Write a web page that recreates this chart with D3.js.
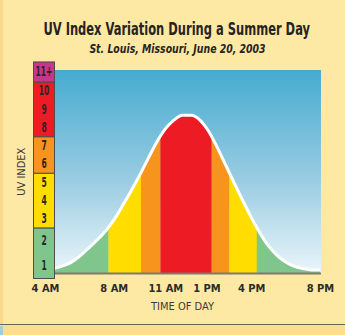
<!DOCTYPE html>
<html>
<head>
<meta charset="utf-8">
<script src="https://cdn.jsdelivr.net/npm/d3@7"></script>
<style>
  html, body { margin: 0; padding: 0; background: #fee9a4; }
  svg { display: block; }
</style>
</head>
<body>
<svg id="chart" width="345" height="335"></svg>
<script>
// Hourly UV index readings (hour of day, 24h clock), half-hour steps
const hours = [4, 4.5, 5, 5.5, 6, 6.5, 7, 7.5, 8, 8.5, 9, 9.5, 10, 10.5, 11, 11.5,
               12, 12.5, 13, 13.5, 14, 14.5, 15, 15.5, 16, 16.5, 17, 17.5, 18, 18.5, 19, 19.5, 20];
const uvValues = [0.15, 0.24, 0.38, 0.57, 0.9, 1.33, 1.78, 2.28, 2.9, 3.67, 4.48, 5.35, 6.27, 7.17, 7.9, 8.38,
                  8.65, 8.65, 8.4, 7.8, 6.93, 5.94, 4.95, 3.98, 3.05, 2.2, 1.49, 0.97, 0.6, 0.37, 0.25, 0.17, 0.16];

// Exposure categories and the index values that bound them
const categoryNames = ["Low", "Moderate", "High", "Very High", "Extreme"];
const categoryBounds = [0, 2.5, 5.5, 7.5, 10.5, 11.6];
const categoryLabels = [["1", "2"], ["3", "4", "5"], ["6", "7"], ["8", "9", "10"], ["11+"]];

// Time axis
const tickHours = [4, 8, 11, 13, 16, 20];
const tickLabels = ["4 AM", "8 AM", "11 AM", "1 PM", "4 PM", "8 PM"];

const categoryColors = ["#80c58c", "#ffdd00", "#f7941d", "#ed1c24", "#c7358c"];
const condensed = "'DejaVu Sans Condensed', sans-serif";

const svg = d3.select("#chart");
const W = 345, H = 335;

// page frame: darker edge strip on the left and a footer band
svg.append("rect").attr("x", 0).attr("y", 0).attr("width", W).attr("height", H).attr("fill", "#fee9a4");
svg.append("rect").attr("x", 0).attr("y", 0).attr("width", 3).attr("height", 325).attr("fill", "#fcd88c");
svg.append("rect").attr("x", 0).attr("y", 325).attr("width", W).attr("height", 10).attr("fill", "#fddd8e");
svg.append("rect").attr("x", 0).attr("y", 326).attr("width", 3).attr("height", 9).attr("fill", "#a9cbd6");
svg.append("line").attr("x1", 0).attr("x2", W).attr("y1", 324.5).attr("y2", 324.5)
  .attr("stroke", "#6a6356").attr("stroke-width", 1);

// plot frame
const plotL = 55, plotR = 321, plotT = 70;
const x = d3.scaleLinear().domain([4, 20]).range([45, 320]);
const y = d3.scaleLinear().domain([0, 10.5]).range([273, 81.5]);
const plotB = y(0);

const data = hours.map((h, i) => ({ h, v: uvValues[i] }));

const defs = svg.append("defs");
const sky = defs.append("linearGradient").attr("id", "sky")
  .attr("x1", 0).attr("y1", 0).attr("x2", 0).attr("y2", 1);
sky.append("stop").attr("offset", "0%").attr("stop-color", "#46abd1");
sky.append("stop").attr("offset", "55%").attr("stop-color", "#9bcde2");
sky.append("stop").attr("offset", "100%").attr("stop-color", "#eaf5fa");

defs.append("clipPath").attr("id", "plotClip")
  .append("rect").attr("x", plotL).attr("y", plotT).attr("width", plotR - plotL).attr("height", plotB - plotT);

const line = d3.line().x(d => x(d.h)).y(d => y(d.v)).curve(d3.curveMonotoneX);
const area = d3.area().x(d => x(d.h)).y0(y(0)).y1(d => y(d.v)).curve(d3.curveMonotoneX);

defs.append("clipPath").attr("id", "areaClip")
  .append("path").datum(data).attr("d", area);

svg.append("rect").attr("x", plotL).attr("y", plotT).attr("width", plotR - plotL).attr("height", plotB - plotT)
  .attr("fill", "url(#sky)");

const plot = svg.append("g").attr("clip-path", "url(#plotClip)");
const bandLayer = plot.append("g").attr("clip-path", "url(#areaClip)");

const curvePath = plot.append("path").datum(data).attr("d", line)
  .attr("fill", "none").attr("stroke", "#ffffff").attr("stroke-width", 3);

// split the area under the curve into vertical bands by exposure category
const categoryOf = v => {
  let i = 0;
  while (i < categoryNames.length - 1 && v >= categoryBounds[i + 1]) i++;
  return i;
};
const node = curvePath.node();
const total = node.getTotalLength();
const segments = [];
let current = null;
for (let s = 0; s <= total; s += 0.25) {
  const p = node.getPointAtLength(s);
  const c = categoryOf(y.invert(p.y));
  if (!current || current.c !== c) {
    if (current) current.x1 = p.x;
    current = { c, x0: p.x };
    segments.push(current);
  }
}
current.x1 = plotR;

bandLayer.selectAll("rect").data(segments).join("rect")
  .attr("x", d => d.x0).attr("width", d => d.x1 - d.x0 + 0.3)
  .attr("y", plotT).attr("height", plotB - plotT)
  .attr("fill", d => categoryColors[d.c]);

curvePath.raise();

// baseline
svg.append("line").attr("x1", plotL).attr("x2", plotR).attr("y1", plotB + 0.5).attr("y2", plotB + 0.5)
  .attr("stroke", "#7a7a72").attr("stroke-width", 2);

// UV index category column
const colL = 33, colW = 22;
const boxes = categoryNames.map((name, i) => {
  const top = y(categoryBounds[i + 1]);
  const bottom = i === 0 ? y(categoryBounds[i]) + 5 : y(categoryBounds[i]);
  return { name, i, top, bottom, labels: categoryLabels[i] };
});
const col = svg.append("g");
col.selectAll("rect").data(boxes).join("rect")
  .attr("x", colL + 0.5).attr("y", d => d.top + 0.5)
  .attr("width", colW - 1).attr("height", d => d.bottom - d.top)
  .attr("fill", d => categoryColors[d.i])
  .attr("stroke", "#4e4e4e").attr("stroke-width", 1);

// index numbers, spread evenly inside each box, in a tall narrow face
boxes.forEach(b => {
  const n = b.labels.length;
  b.labels.forEach((lab, j) => {
    const cy = b.bottom - (j + 0.5) * (b.bottom - b.top) / n;
    col.append("text")
      .attr("transform", `translate(${colL + colW / 2},${cy}) scale(0.62,1)`)
      .attr("dy", "0.36em").attr("text-anchor", "middle")
      .attr("font-family", condensed).attr("font-weight", "bold").attr("font-size", 13.5)
      .attr("fill", "#2a2626").text(lab);
  });
});

// time axis labels
const xAxis = d3.axisBottom(x).tickValues(tickHours).tickSize(0).tickPadding(0)
  .tickFormat((d, i) => tickLabels[i]);
const axisG = svg.append("g").attr("transform", "translate(0,284)").call(xAxis);
axisG.select(".domain").remove();
axisG.selectAll("text")
  .attr("font-family", condensed).attr("font-weight", "bold").attr("font-size", 11)
  .attr("fill", "#2b2b2b").attr("dy", "0.71em");

// keep neighbouring tick labels from crowding each other
const minGap = 10;
const tickNodes = axisG.selectAll(".tick").nodes();
let prevRight = -Infinity;
tickNodes.forEach(t => {
  const txt = d3.select(t).select("text");
  const bb = txt.node().getBBox();
  const tx = x(d3.select(t).datum());
  let shift = 0;
  if (tx + bb.x < prevRight + minGap) shift = prevRight + minGap - (tx + bb.x);
  txt.attr("x", shift);
  prevRight = tx + bb.x + bb.width + shift;
});

svg.append("text").attr("x", 182.5).attr("y", 310).attr("text-anchor", "middle")
  .attr("font-family", condensed).attr("font-size", 11).attr("fill", "#3a3a3a")
  .text("TIME OF DAY");

svg.append("text").attr("transform", "translate(25,171.7) rotate(-90)").attr("text-anchor", "middle")
  .attr("font-family", condensed).attr("font-size", 11).attr("fill", "#3a3a3a")
  .text("UV INDEX");

// titles, set in a compressed heavy face
svg.append("text").attr("transform", "translate(176.7,35) scale(0.71,1)").attr("text-anchor", "middle")
  .attr("font-family", condensed).attr("font-weight", "bold").attr("font-size", 18)
  .attr("fill", "#262322").text("UV Index Variation During a Summer Day");

svg.append("text").attr("transform", "translate(177.5,52.5) scale(0.8,1)").attr("text-anchor", "middle")
  .attr("font-family", condensed).attr("font-weight", "bold").attr("font-style", "italic").attr("font-size", 13)
  .attr("fill", "#262322").text("St. Louis, Missouri, June 20, 2003");
</script>
</body>
</html>
